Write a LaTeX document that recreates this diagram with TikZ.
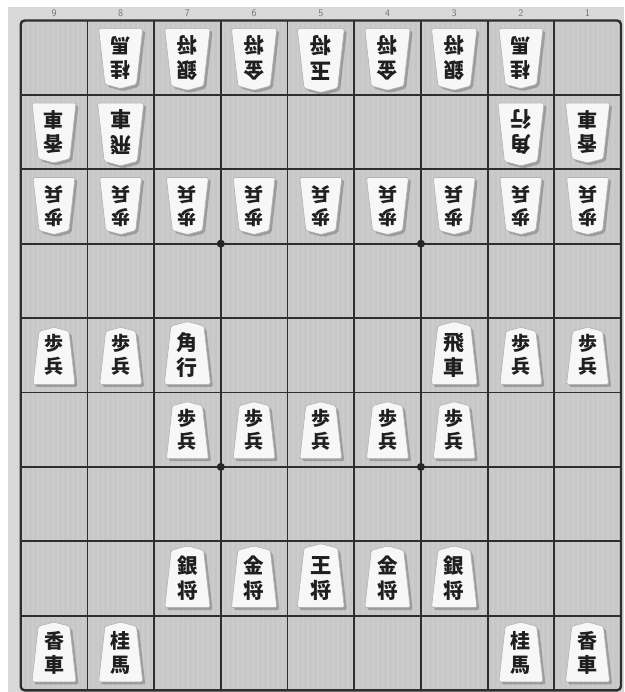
\documentclass[tikz,border=0pt]{standalone}
\usepackage{fontspec}
\newfontfamily\jpfont{Noto Sans CJK JP}

\begin{document}
\begin{tikzpicture}[x=1pt, y=-1pt,
    rim/.style={fill=black!15},
    board/.style={fill=black!22},
    stripe/.style={draw=white, opacity=0.1, line width=1.4pt},
    gridline/.style={draw=black!82, line width=1.8pt},
    komaface/.style={fill=black!3, draw=black!30, line width=0.6pt, rounded corners=1.5pt},
    komashadow/.style={fill=black!60, opacity=0.45, rounded corners=2pt},
    koma/.style={font=\jpfont\bfseries\fontsize{19}{23}\selectfont, align=center, inner sep=0pt, text=black!88},
    colnum/.style={font=\sffamily\fontsize{10}{10}\selectfont, text=black!55, inner sep=0pt}]
    \useasboundingbox (0,0) rectangle (624,692);

    % Board
    \fill[rim] (8,7) rectangle (624,692);
    \fill[board] (20.7,20.5) rectangle (621,690.3);
    \foreach \i in {0,...,119}
        \draw[stripe] ({23+\i*5},21.5) -- ++(0,668);

    % Column numbers
    \foreach \col in {1,...,9}
        \node[colnum] (n\col) at ({54+(9-\col)*66.7},13) {\col};

    % Grid
    \foreach \i in {1,...,8} {
        \draw[gridline] ({20.7+\i*66.7},20.5) -- ({20.7+\i*66.7},690.3);
        \draw[gridline] (20.7,{20.5+\i*74.4}) -- (621,{20.5+\i*74.4});
    }
    \draw[gridline, line width=2.4pt, rounded corners=4pt] (20.7,20.5) rectangle (621,690.3);
    \foreach \x in {220.8,420.9}
        \foreach \y in {243.7,466.9}
            \fill[black!85] (\x,\y) circle (4);

    % Pieces
    \foreach \col/\row/\txt/\sz/\ang in {
        8/1/{桂\\馬}/1.05/180, 7/1/{銀\\将}/1.08/180, 6/1/{金\\将}/1.08/180,
        5/1/{玉\\将}/1.12/180, 4/1/{金\\将}/1.08/180, 3/1/{銀\\将}/1.08/180,
        2/1/{桂\\馬}/1.05/180,
        9/2/{香\\車}/1.05/180, 8/2/{飛\\車}/1.1/180, 2/2/{角\\行}/1.1/180,
        1/2/{香\\車}/1.05/180,
        9/3/{歩\\兵}/1/180, 8/3/{歩\\兵}/1/180, 7/3/{歩\\兵}/1/180,
        6/3/{歩\\兵}/1/180, 5/3/{歩\\兵}/1/180, 4/3/{歩\\兵}/1/180,
        3/3/{歩\\兵}/1/180, 2/3/{歩\\兵}/1/180, 1/3/{歩\\兵}/1/180,
        9/5/{歩\\兵}/1/0, 8/5/{歩\\兵}/1/0, 7/5/{角\\行}/1.1/0,
        3/5/{飛\\車}/1.1/0, 2/5/{歩\\兵}/1/0, 1/5/{歩\\兵}/1/0,
        7/6/{歩\\兵}/1/0, 6/6/{歩\\兵}/1/0, 5/6/{歩\\兵}/1/0,
        4/6/{歩\\兵}/1/0, 3/6/{歩\\兵}/1/0,
        7/8/{銀\\将}/1.08/0, 6/8/{金\\将}/1.08/0, 5/8/{王\\将}/1.12/0,
        4/8/{金\\将}/1.08/0, 3/8/{銀\\将}/1.08/0,
        9/9/{香\\車}/1.05/0, 8/9/{桂\\馬}/1.05/0, 2/9/{桂\\馬}/1.05/0,
        1/9/{香\\車}/1.05/0} {
        \coordinate (cell) at ({54+(9-\col)*66.7},{20.5+(\row-0.5)*74.4});
        \fill[komashadow, shift={(cell)}, shift={(2.5,2.5)}, rotate=\ang, shift={(0,29)}, scale=\sz]
            (-21,0) -- (21,0) -- (15,-53) -- (0,-57) -- (-15,-53) -- cycle;
        \filldraw[komaface, shift={(cell)}, rotate=\ang, shift={(0,29)}, scale=\sz]
            (-21,0) -- (21,0) -- (15,-53) -- (0,-57) -- (-15,-53) -- cycle;
        \node[koma, rotate=\ang, scale=\sz] (k\col\row) at (cell) {\txt};
    }
\end{tikzpicture}
\end{document}
